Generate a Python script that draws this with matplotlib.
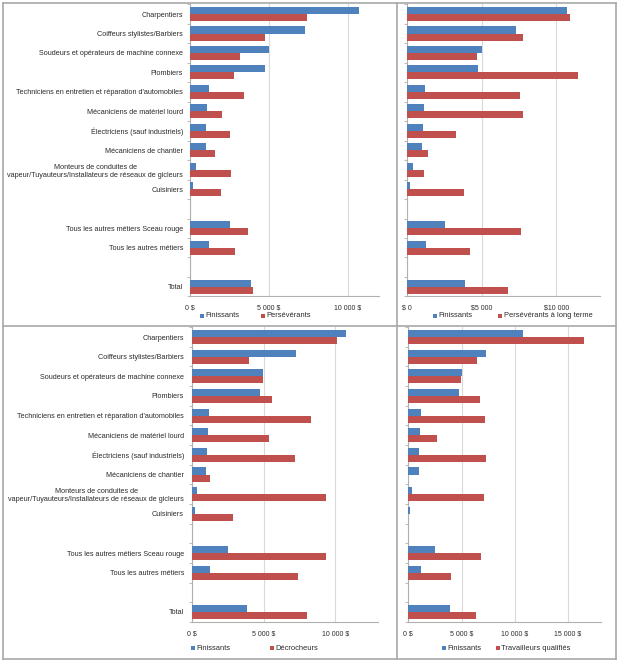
import matplotlib
matplotlib.use("Agg")
import matplotlib.pyplot as plt
from matplotlib.patches import Rectangle
from matplotlib.lines import Line2D
import numpy as np

plt.rcParams['font.family'] = ['Liberation Sans', 'DejaVu Sans']

categories = [
    "Charpentiers",
    "Coiffeurs stylistes/Barbiers",
    "Soudeurs et opérateurs de machine connexe",
    "Plombiers",
    "Techniciens en entretien et réparation d'automobiles",
    "Mécaniciens de matériel lourd",
    "Électriciens (sauf industriels)",
    "Mécaniciens de chantier",
    "Monteurs de conduites de\nvapeur/Tuyauteurs/Installateurs de réseaux de gicleurs",
    "Cuisiniers",
    "",
    "Tous les autres métiers Sceau rouge",
    "Tous les autres métiers",
    "",
    "Total",
]

finissants_tl = [10740, 7300, 5000, 4770, 1210, 1100, 1040, 1000, 380, 210, 0, 2540, 1230, 0, 3900]
perseverants = [7450, 4770, 3180, 2820, 3430, 2010, 2560, 1590, 2600, 1970, 0, 3700, 2840, 0, 4000]

finissants_tr = [10700, 7300, 4990, 4770, 1210, 1120, 1030, 990, 400, 180, 0, 2550, 1250, 0, 3870]
perseverants_lt = [10940, 7740, 4660, 11460, 7560, 7790, 3290, 1390, 1120, 3800, 0, 7610, 4230, 0, 6740]

finissants_bl = [10750, 7270, 4970, 4730, 1190, 1100, 1000, 980, 350, 170, 0, 2500, 1220, 0, 3850]
decrocheurs = [10100, 3940, 4970, 5550, 8320, 5380, 7200, 1260, 9330, 2820, 0, 9350, 7370, 0, 8040]

finissants_br = [10750, 7330, 5020, 4730, 1190, 1130, 1000, 1000, 380, 160, 0, 2540, 1220, 0, 3890]
travailleurs = [16540, 6430, 4950, 6770, 7210, 2730, 7330, 0, 7140, 0, 0, 6860, 4040, 0, 6360]

ticks_tl = [0, 5000, 10000]
ticklabels_tl = ["0 $", "5 000 $", "10 000 $"]
ticks_tr = [0, 5000, 10000]
ticklabels_tr = ["$ 0", "$5 000", "$10 000"]
ticks_bl = [0, 5000, 10000]
ticklabels_bl = ["0 $", "5 000 $", "10 000 $"]
ticks_br = [0, 5000, 10000, 15000]
ticklabels_br = ["0 $", "5 000 $", "10 000 $", "15 000 $"]

BLUE = "#4F81BD"
RED = "#C0504D"
GRID = "#d9d9d9"
SPINE = "#b0b0b0"
TXT = "#2b2b2b"
CAT_FS = 5.2
TICK_FS = 5.0
LEG_FS = 5.4

W, H = 621, 661
fig = plt.figure(figsize=(W / 100, H / 100), dpi=100)
fig.patch.set_facecolor("white")


def rect(x0, x1, y0, y1):
    return [x0 / W, 1 - y1 / H, (x1 - x0) / W, (y1 - y0) / H]


def panel(r, blue, red, xmax, ticks, tlabels, show_labels, lab_pad):
    ax = fig.add_axes(r)
    y = np.arange(len(categories))
    h = 0.36
    ax.barh(y - h / 2, blue, height=h, color=BLUE, edgecolor="none", zorder=3)
    ax.barh(y + h / 2, red, height=h, color=RED, edgecolor="none", zorder=3)
    ax.set_xlim(0, xmax)
    ax.set_ylim(len(categories) - 0.5, -0.5)
    ax.set_xticks(ticks)
    ax.set_xticklabels(tlabels, fontsize=TICK_FS, color=TXT)
    ax.tick_params(axis="x", length=0, pad=6)
    ax.grid(axis="x", color=GRID, linewidth=0.8, zorder=0)
    for s in ["top", "right"]:
        ax.spines[s].set_visible(False)
    ax.spines["left"].set_color(SPINE)
    ax.spines["bottom"].set_color(SPINE)
    ax.spines["left"].set_linewidth(0.8)
    ax.spines["bottom"].set_linewidth(0.8)
    ax.set_yticks(y)
    if show_labels:
        ax.set_yticklabels(categories, fontsize=CAT_FS, color=TXT, multialignment="center")
    else:
        ax.set_yticklabels([])
    ax.tick_params(axis="y", length=0, pad=lab_pad)
    ax.set_yticks(np.arange(-0.5, len(categories) + 0.5, 1), minor=True)
    ax.tick_params(axis="y", which="minor", length=2.5, color=SPINE, width=0.6)
    ax.set_facecolor("white")
    return ax


panel(rect(190, 379, 4.3, 296.4), finissants_tl, perseverants, 12000, ticks_tl, ticklabels_tl, True, 5)
panel(rect(407.3, 600, 4.3, 296.4), finissants_tr, perseverants_lt, 12930, ticks_tr, ticklabels_tr, False, 5)
panel(rect(192.3, 378.3, 327.2, 621.8), finissants_bl, decrocheurs, 13000, ticks_bl, ticklabels_bl, True, 6)
panel(rect(408.3, 600.7, 327.2, 621.8), finissants_br, travailleurs, 18080, ticks_br, ticklabels_br, False, 5)


def legend(items, y):
    for (x, label, color) in items:
        fig.patches.append(Rectangle(((x - 2) / W, 1 - (y + 2) / H), 4 / W, 4 / H,
                                     transform=fig.transFigure, facecolor=color,
                                     edgecolor="none", figure=fig))
        fig.text((x + 3.5) / W, 1 - y / H, label, fontsize=LEG_FS, color=TXT,
                 ha="left", va="center")


legend([(202, "Finissants", BLUE), (263, "Persévérants", RED)], 315.7)
legend([(435, "Finissants", BLUE), (500, "Persévérants à long terme", RED)], 315.7)
legend([(193, "Finissants", BLUE), (272, "Décrocheurs", RED)], 648)
legend([(444, "Finissants", BLUE), (497.5, "Travailleurs qualifiés", RED)], 648)

# panel frames
FRAME = "#a8a8a8"
def hline(y, x0, x1):
    fig.add_artist(Line2D([x0 / W, x1 / W], [1 - y / H, 1 - y / H], color=FRAME,
                          linewidth=1.2, transform=fig.transFigure))
def vline(x, y0, y1):
    fig.add_artist(Line2D([x / W, x / W], [1 - y0 / H, 1 - y1 / H], color=FRAME,
                          linewidth=1.2, transform=fig.transFigure))

hline(3, 3, 616)
hline(325.7, 3, 616)
hline(659, 3, 616)
vline(3, 3, 659)
vline(616, 3, 659)
vline(396.7, 3, 659)

fig.savefig("out.png", dpi=100, facecolor="white")
